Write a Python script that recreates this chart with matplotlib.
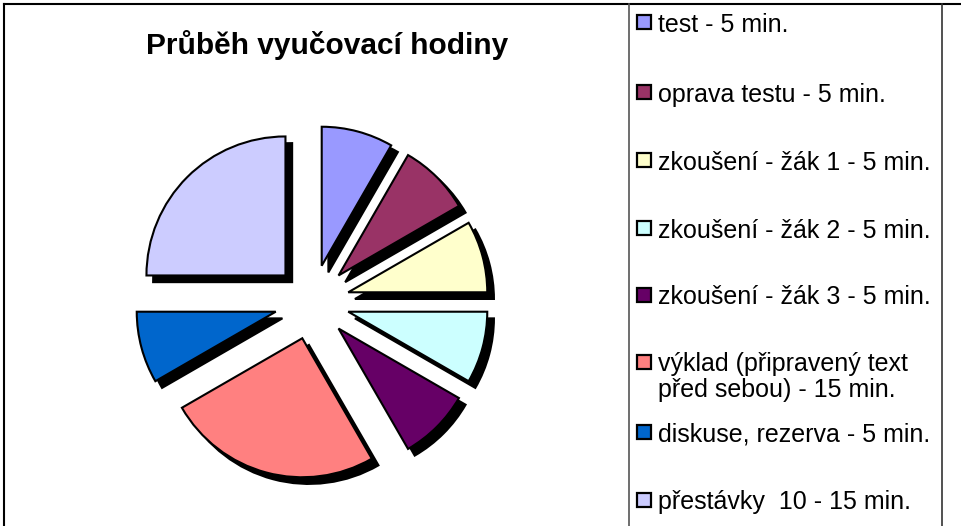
import matplotlib
matplotlib.use("Agg")
import matplotlib.pyplot as plt
from matplotlib.patches import Rectangle
from matplotlib.lines import Line2D

plt.rcParams['font.family'] = ['Liberation Sans', 'DejaVu Sans']

title = "Průběh vyučovací hodiny"
labels = ["test - 5 min.",
          "oprava testu - 5 min.",
          "zkoušení - žák 1 - 5 min.",
          "zkoušení - žák 2 - 5 min.",
          "zkoušení - žák 3 - 5 min.",
          "výklad (připravený text\npřed sebou) - 15 min.",
          "diskuse, rezerva - 5 min.",
          "přestávky  10 - 15 min."]
minutes = [5, 5, 5, 5, 5, 15, 5, 15]
colors = ["#9999FF", "#993366", "#FFFFCC", "#CCFFFF",
          "#660066", "#FF8080", "#0066CC", "#CCCCFF"]

W, H = 962, 526
fig = plt.figure(figsize=(W / 100, H / 100), dpi=100)

# pie axes: 1 data unit ~ 139 px, centre at (312, 302) px
r_px = 139
cx, cy = 312, 302
ax = fig.add_axes([(cx - 1.5 * r_px) / W, (H - cy - 1.5 * r_px) / H,
                   3 * r_px / W, 3 * r_px / H])
explode = [0.27] * len(minutes)
sh = 0.048

# shadow first, then the real slices
ax.pie(minutes, explode=explode, startangle=90, counterclock=False,
       colors=["black"] * len(minutes), center=(sh, -sh),
       wedgeprops=dict(edgecolor="black", linewidth=1.5))
ax.pie(minutes, explode=explode, startangle=90, counterclock=False,
       colors=colors, center=(0, 0),
       wedgeprops=dict(edgecolor="black", linewidth=1.5))
ax.set_xlim(-1.5, 1.5)
ax.set_ylim(-1.5, 1.5)
ax.set_aspect("auto")
ax.axis("off")

fig.text(327 / W, 1 - 45 / H, title, ha="center", va="center",
         fontsize=21.5, fontweight="bold")

# frame lines
def px_line(x0, y0, x1, y1, c="black", lw=1.5):
    fig.add_artist(Line2D([x0 / W, x1 / W], [1 - y0 / H, 1 - y1 / H],
                          color=c, lw=lw, transform=fig.transFigure))

px_line(3.5, 3.5, W, 3.5)
px_line(3.5, 3.5, 3.5, H)
px_line(628.5, 3.5, 628.5, H, c="#555555", lw=1.2)
px_line(942.5, 3.5, 942.5, H, c="#333333", lw=1.2)

# legend
ys = [22, 92, 160, 228, 295, 362, 432, 500]
for lab, c, y in zip(labels, colors, ys):
    fig.add_artist(Rectangle((637 / W, 1 - (y + 7) / H), 14 / W, 14 / H,
                             facecolor=c, edgecolor="black", lw=1.6,
                             transform=fig.transFigure))
    for i, line in enumerate(lab.split("\n")):
        fig.text(658 / W, 1 - (y + 9.5 + 26 * i) / H, line, ha="left",
                 va="baseline", fontsize=18)

fig.savefig("out.png", dpi=100)
